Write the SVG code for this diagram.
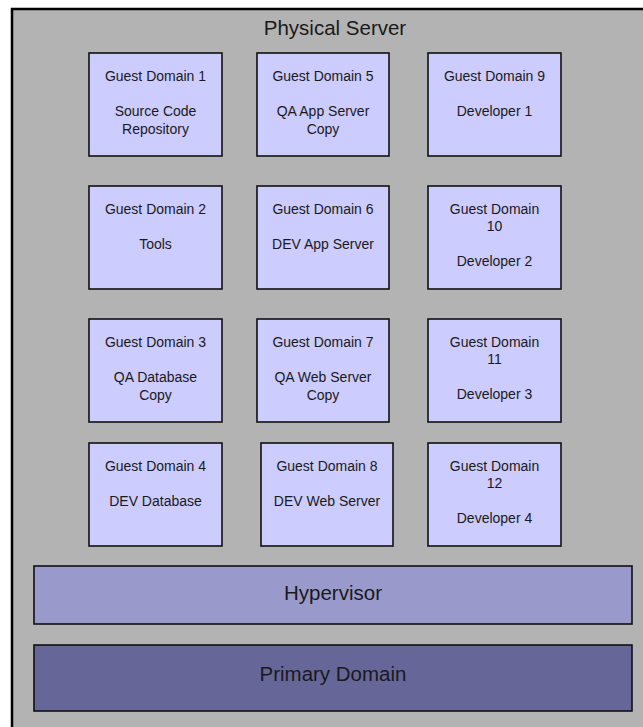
<svg xmlns="http://www.w3.org/2000/svg" width="643" height="727" viewBox="0 0 643 727">
  <style>
    .frame { fill: #b3b3b3; stroke: #000; stroke-width: 2.5; }
    .guest { fill: #ccccff; stroke: #111; stroke-width: 1.6; }
    .hyper { fill: #9999cc; stroke: #111; stroke-width: 1.6; }
    .primary { fill: #666699; stroke: #111; stroke-width: 1.6; }
    text { font-family: "Liberation Sans", Arial, sans-serif; fill: #1a1a1a; text-anchor: middle; }
    .lbl { font-size: 14px; }
    .big { font-size: 20.5px; }
  </style>
  <rect width="643" height="727" fill="#fff"/>

  <!-- physical server frame (runs past the right and bottom edges) -->
  <g id="physical-server">
    <rect class="frame" x="12" y="9" width="640" height="730"/>
    <text class="big" x="335" y="35">Physical Server</text>
  </g>

  <!-- column 1 -->
  <g id="gd1">
    <rect class="guest" x="89" y="53" width="133" height="103"/>
    <text class="lbl" x="155.5" y="81">Guest Domain 1</text>
    <text class="lbl" x="155.5" y="116">Source Code</text>
    <text class="lbl" x="155.5" y="134">Repository</text>
  </g>
  <g id="gd2">
    <rect class="guest" x="89" y="186" width="133" height="103"/>
    <text class="lbl" x="155.5" y="214">Guest Domain 2</text>
    <text class="lbl" x="155.5" y="249">Tools</text>
  </g>
  <g id="gd3">
    <rect class="guest" x="89" y="319" width="133" height="103"/>
    <text class="lbl" x="155.5" y="347">Guest Domain 3</text>
    <text class="lbl" x="155.5" y="382">QA Database</text>
    <text class="lbl" x="155.5" y="400">Copy</text>
  </g>
  <g id="gd4">
    <rect class="guest" x="89" y="443" width="133" height="103"/>
    <text class="lbl" x="155.5" y="471">Guest Domain 4</text>
    <text class="lbl" x="155.5" y="506">DEV Database</text>
  </g>

  <!-- column 2 -->
  <g id="gd5">
    <rect class="guest" x="257" y="53" width="132" height="103"/>
    <text class="lbl" x="323" y="81">Guest Domain 5</text>
    <text class="lbl" x="323" y="116">QA App Server</text>
    <text class="lbl" x="323" y="134">Copy</text>
  </g>
  <g id="gd6">
    <rect class="guest" x="257" y="186" width="132" height="103"/>
    <text class="lbl" x="323" y="214">Guest Domain 6</text>
    <text class="lbl" x="323" y="249">DEV App Server</text>
  </g>
  <g id="gd7">
    <rect class="guest" x="257" y="319" width="132" height="103"/>
    <text class="lbl" x="323" y="347">Guest Domain 7</text>
    <text class="lbl" x="323" y="382">QA Web Server</text>
    <text class="lbl" x="323" y="400">Copy</text>
  </g>
  <g id="gd8">
    <rect class="guest" x="261" y="443" width="132" height="103"/>
    <text class="lbl" x="327" y="471">Guest Domain 8</text>
    <text class="lbl" x="327" y="506">DEV Web Server</text>
  </g>

  <!-- column 3 -->
  <g id="gd9">
    <rect class="guest" x="428" y="53" width="133" height="103"/>
    <text class="lbl" x="494.5" y="81">Guest Domain 9</text>
    <text class="lbl" x="494.5" y="116">Developer 1</text>
  </g>
  <g id="gd10">
    <rect class="guest" x="428" y="186" width="133" height="103"/>
    <text class="lbl" x="494.5" y="214">Guest Domain</text>
    <text class="lbl" x="494.5" y="231">10</text>
    <text class="lbl" x="494.5" y="266">Developer 2</text>
  </g>
  <g id="gd11">
    <rect class="guest" x="428" y="319" width="133" height="103"/>
    <text class="lbl" x="494.5" y="347">Guest Domain</text>
    <text class="lbl" x="494.5" y="364">11</text>
    <text class="lbl" x="494.5" y="399">Developer 3</text>
  </g>
  <g id="gd12">
    <rect class="guest" x="428" y="443" width="133" height="103"/>
    <text class="lbl" x="494.5" y="471">Guest Domain</text>
    <text class="lbl" x="494.5" y="488">12</text>
    <text class="lbl" x="494.5" y="523">Developer 4</text>
  </g>

  <!-- virtualisation layers -->
  <g id="hypervisor">
    <rect class="hyper" x="34" y="566" width="598" height="58"/>
    <text class="big" x="333" y="600">Hypervisor</text>
  </g>
  <g id="primary-domain">
    <rect class="primary" x="34" y="645" width="598" height="66"/>
    <text class="big" x="333" y="681">Primary Domain</text>
  </g>

  <g id="connectors"/>
</svg>
